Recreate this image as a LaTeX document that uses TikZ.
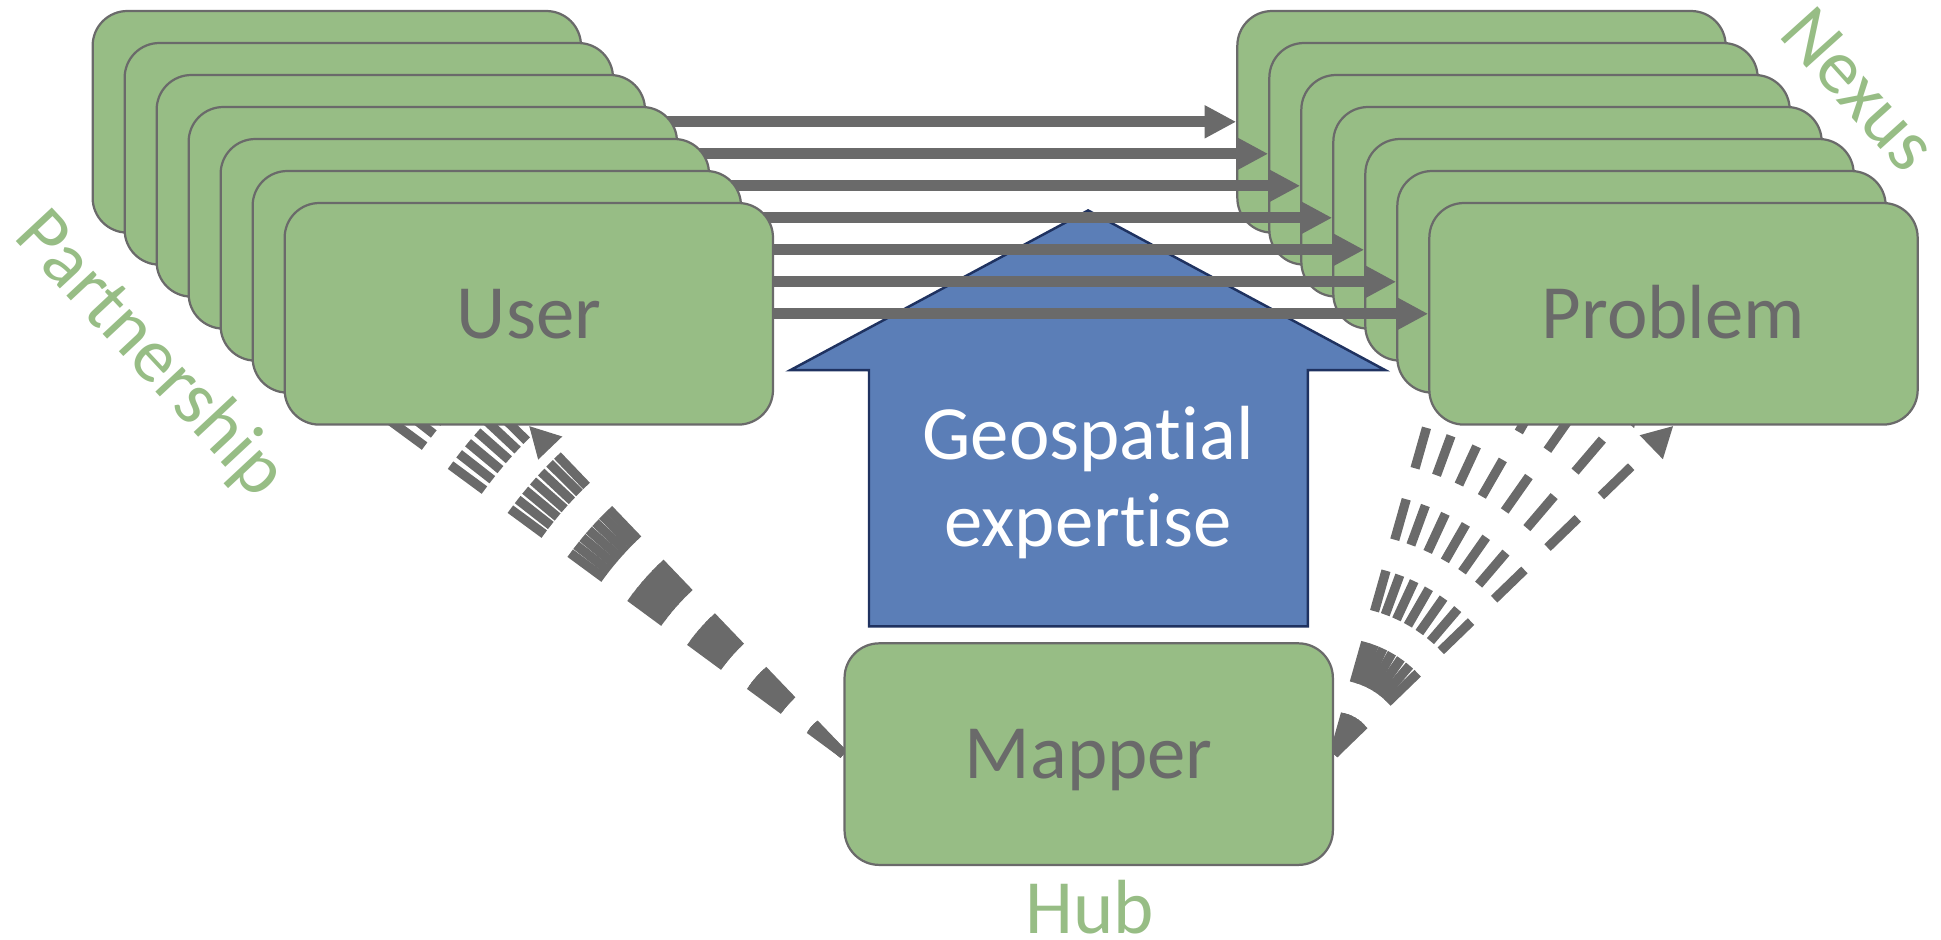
\documentclass[tikz,border=0pt]{standalone}
\usepackage{fontspec}
\setmainfont{Carlito}[Ligatures={NoCommon}]
\usetikzlibrary{arrows.meta}
\definecolor{boxgreen}{RGB}{151,189,133}
\definecolor{linegray}{RGB}{106,106,106}
\definecolor{arrowblue}{RGB}{91,126,183}
\definecolor{navyedge}{RGB}{31,50,96}
\pgfdeclarelayer{links}
\pgfdeclarelayer{problems}
\pgfdeclarelayer{bluelayer}
\pgfdeclarelayer{flows}
\pgfsetlayers{links,problems,bluelayer,flows,main}
\begin{document}
\begin{tikzpicture}[x=1pt,y=-1pt,
  greenbox/.style={draw=linegray, line width=1.8pt, fill=boxgreen, rounded corners=28pt,
    minimum width=394.5pt, minimum height=179pt, inner sep=0pt, text=linegray,
    font=\fontsize{62}{70}\selectfont, text height=39.2pt, text depth=0pt},
  flowarrow/.style={draw=linegray, line width=8.8pt, -{Triangle[length=25.5pt,width=25pt]}},
  linkarrow/.style={draw=linegray, line width=7.5pt, dash pattern=on 34pt off 26pt,
    -{Triangle[length=25pt,width=25pt]}},
  greenlabel/.style={text=boxgreen, font=\fontsize{62}{70}\selectfont, inner sep=0pt},
]
\useasboundingbox (0,0) rectangle (1568,759.36);

% problem boxes
\begin{pgfonlayer}{problems}
\foreach \i in {0,...,5}
  \node[greenbox] (p\i) at ({1196.8+25.85*\i},{98.4+25.85*\i}) {};
\node[greenbox] (p6) at ({1196.8+25.85*6},{98.4+25.85*6}) {Problem};
\end{pgfonlayer}

% user boxes
\foreach \i in {0,...,5}
  \node[greenbox] (u\i) at ({272.1+25.85*\i},{98.4+25.85*\i}) {};
\node[greenbox] (u6) at ({272.1+25.85*6},{98.4+25.85*6}) {User};

% mapper
\node[greenbox] (m) at (879.5,609.2) {Mapper};

% blue arrow
\begin{pgfonlayer}{bluelayer}
\draw[fill=arrowblue, draw=navyedge, line width=2pt]
  (879,170) -- (1119,299) -- (1056.5,299) -- (1056.5,506) -- (702,506)
  -- (702,299) -- (638.5,299) -- cycle;
\node[text=white, align=center, inner sep=0pt, font=\fontsize{62}{70}\selectfont]
  (geo) at (879,390) {Geospat\kern0pt ial\\expert\kern0pt ise};
\end{pgfonlayer}

% horizontal flows
\begin{pgfonlayer}{flows}
\foreach \i in {0,...,6}
  \draw[flowarrow] (u\i.east) -- (p\i.west);
\end{pgfonlayer}

% dashed links
\coordinate (ue0) at (108.5,187.9);
\coordinate (ue1) at (175.3,213.75);
\coordinate (ue2) at (235.7,239.6);
\coordinate (ue3) at (290.7,265.45);
\coordinate (ue4) at (340.7,291.3);
\coordinate (ue5) at (386.2,317.15);
\begin{pgfonlayer}{links}
\foreach \i in {0,...,5}
  \draw[linkarrow] (m.west) -- (ue\i);
\draw[linkarrow] (m.west) -- (u6.south);
\foreach \i in {0,...,6}
  \draw[linkarrow] (m.east) -- (p\i.south);
\end{pgfonlayer}

% labels
\node[greenlabel, anchor=base] (hub) at (880.5,754) {Hub};
\node[greenlabel, rotate=-47] (partner) at (121,287) {Partnership};
\node[greenlabel, rotate=-48] (nexus) at (1502,72) {Nexus};
\end{tikzpicture}
\end{document}
